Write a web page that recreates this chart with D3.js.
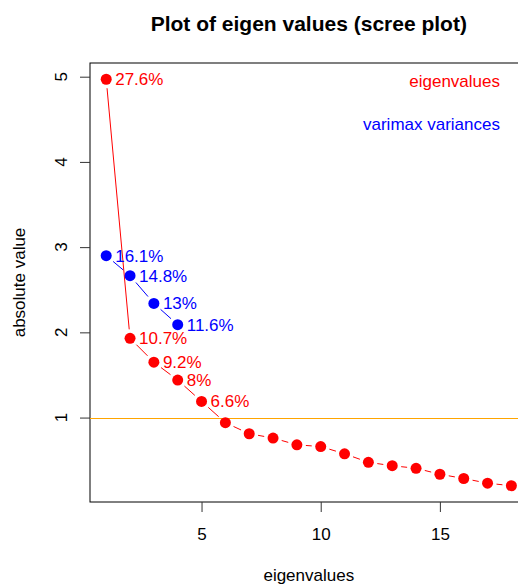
<!DOCTYPE html>
<html>
<head>
<meta charset="utf-8">
<script src="https://cdn.jsdelivr.net/npm/d3@7"></script>
<style>
  body { margin: 0; background: #fff; }
  text { font-family: "Liberation Sans", Arial, sans-serif; }
</style>
</head>
<body>
<script>
// data
const eigenvalues = [4.97, 1.93, 1.65, 1.44, 1.19, 0.94, 0.81, 0.76, 0.68, 0.66, 0.575, 0.475, 0.435, 0.405, 0.335, 0.285, 0.23, 0.2];
const eigenLabels = ['27.6%', '10.7%', '9.2%', '8%', '6.6%'];
const varimax = [2.9, 2.665, 2.34, 2.09];
const varimaxLabels = ['16.1%', '14.8%', '13%', '11.6%'];
const xTicks = [5, 10, 15];
const yTicks = [1, 2, 3, 4, 5];

const width = 518, height = 585;
// plot box (right side runs off the picture, like the reference)
const box = { left: 90, top: 63, right: 527.6, bottom: 502 };

const svg = d3.select('body').append('svg')
  .attr('width', width).attr('height', height);

// R style 4% extension of the data range
function ext(lo, hi) { const d = (hi - lo) * 0.04; return [lo - d, hi + d]; }
const all = eigenvalues.concat(varimax);

const x = d3.scaleLinear().domain(ext(1, eigenvalues.length)).range([box.left, box.right]);
const y = d3.scaleLinear().domain(ext(d3.min(all), d3.max(all))).range([box.bottom, box.top]);

const fs = 17;

// box
svg.append('rect')
  .attr('x', box.left).attr('y', box.top)
  .attr('width', box.right - box.left).attr('height', box.bottom - box.top)
  .attr('fill', 'none').attr('stroke', '#000').attr('stroke-width', 1);

// x axis
const xa = svg.append('g').attr('transform', `translate(0,${box.bottom})`)
  .call(d3.axisBottom(x).tickValues(xTicks).tickSize(10).tickPadding(16));
xa.select('.domain').remove();
xa.selectAll('line').attr('stroke', '#333');
xa.selectAll('text').attr('font-size', fs).attr('font-family', '"Liberation Sans", Arial, sans-serif').attr('fill', '#000');

// y axis (tick labels rotated like R)
const ya = svg.append('g').attr('transform', `translate(${box.left},0)`)
  .call(d3.axisLeft(y).tickValues(yTicks).tickSize(10).tickFormat(''));
ya.select('.domain').remove();
ya.selectAll('line').attr('stroke', '#333');
svg.selectAll('.ylab').data(yTicks).enter().append('text')
  .attr('class', 'ylab')
  .attr('transform', d => `translate(67,${y(d)}) rotate(-90)`)
  .attr('text-anchor', 'middle').attr('font-size', fs)
  .text(d => d);

// reference line at 1
svg.append('line')
  .attr('x1', box.left).attr('x2', box.right)
  .attr('y1', Math.round(y(1)) + 0.5).attr('y2', Math.round(y(1)) + 0.5)
  .attr('stroke', '#ffa500').attr('stroke-width', 1);

// type "b" lines: segments with gaps around points
function drawSeries(vals, color, labels) {
  const pts = vals.map((v, i) => [x(i + 1), y(v)]);
  const gap = 9;
  for (let i = 0; i < pts.length - 1; i++) {
    const [x0, y0] = pts[i], [x1, y1] = pts[i + 1];
    const len = Math.hypot(x1 - x0, y1 - y0);
    if (len <= 2 * gap) continue;
    const ux = (x1 - x0) / len, uy = (y1 - y0) / len;
    svg.append('line')
      .attr('x1', x0 + ux * gap).attr('y1', y0 + uy * gap)
      .attr('x2', x1 - ux * gap).attr('y2', y1 - uy * gap)
      .attr('stroke', color).attr('stroke-width', 1);
  }
  svg.selectAll(null).data(vals).enter().append('circle')
    .attr('cx', (d, i) => x(i + 1)).attr('cy', d => y(d))
    .attr('r', 5.5).attr('fill', color);
  svg.selectAll(null).data(labels).enter().append('text')
    .attr('x', (d, i) => x(i + 1) + 9)
    .attr('y', (d, i) => y(vals[i]))
    .attr('dy', '0.36em')
    .attr('font-size', fs).attr('fill', color)
    .text(d => d);
}
drawSeries(eigenvalues, '#ff0000', eigenLabels);
drawSeries(varimax, '#0000ff', varimaxLabels);

// legend-like texts
svg.append('text').attr('x', 500).attr('y', 87).attr('text-anchor', 'end')
  .attr('font-size', fs).attr('fill', '#ff0000').text('eigenvalues');
svg.append('text').attr('x', 500).attr('y', 130).attr('text-anchor', 'end')
  .attr('font-size', fs).attr('fill', '#0000ff').text('varimax variances');

// titles
svg.append('text').attr('x', (box.left + box.right) / 2).attr('y', 31)
  .attr('text-anchor', 'middle').attr('font-size', 21).attr('font-weight', 'bold')
  .text('Plot of eigen values (scree plot)');
svg.append('text').attr('x', (box.left + box.right) / 2).attr('y', 581)
  .attr('text-anchor', 'middle').attr('font-size', fs)
  .text('eigenvalues');
svg.append('text')
  .attr('transform', `translate(25,${(box.top + box.bottom) / 2}) rotate(-90)`)
  .attr('text-anchor', 'middle').attr('font-size', fs)
  .text('absolute value');
</script>
</body>
</html>
